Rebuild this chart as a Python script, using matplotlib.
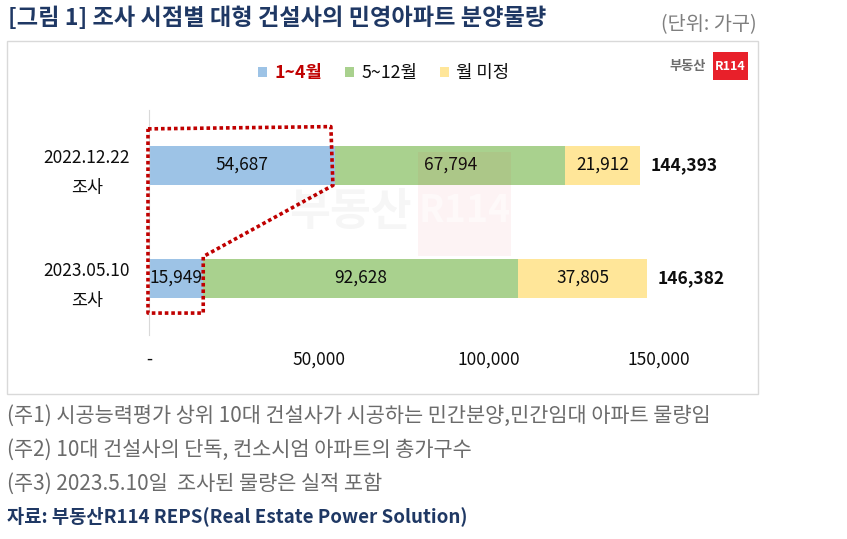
import matplotlib
matplotlib.use("Agg")
import matplotlib.pyplot as plt
from matplotlib.patches import Rectangle
from matplotlib.lines import Line2D

plt.rcParams['font.family'] = ['Noto Sans CJK KR', 'DejaVu Sans']

# ---- data ----
surveys = ['2022.12.22\n조사', '2023.05.10\n조사']
series_names = ['1~4월', '5~12월', '월 미정']
jan_apr = [54687, 15949]
may_dec = [67794, 92628]
undecided = [21912, 37805]
xticks = [0, 50000, 100000, 150000]
xtick_labels = ['-', '50,000', '100,000', '150,000']

colors = ['#9DC3E6', '#A9D18E', '#FFE699']
W, H = 847, 539
fig = plt.figure(figsize=(W / 100, H / 100), dpi=100)


def fx(x):
    return x / W


def fy(y):
    return 1 - y / H


# outer chart box
fig.patches.append(Rectangle((fx(7), fy(394)), fx(758) - fx(7), fy(41) - fy(394),
                             transform=fig.transFigure, fill=False,
                             edgecolor='#D9D9D9', linewidth=1))

ax = fig.add_axes([fx(149), fy(335), (740 - 149) / W, 225 / H])
ypos = [1, 0]
h = 0.345
left2 = [a + b for a, b in zip(jan_apr, may_dec)]
totals = [a + b + c for a, b, c in zip(jan_apr, may_dec, undecided)]

c1 = ax.barh(ypos, jan_apr, height=h, color=colors[0], label=series_names[0])
c2 = ax.barh(ypos, may_dec, left=jan_apr, height=h, color=colors[1], label=series_names[1])
c3 = ax.barh(ypos, undecided, left=left2, height=h, color=colors[2], label=series_names[2])
for c, vals in [(c1, jan_apr), (c2, may_dec), (c3, undecided)]:
    ax.bar_label(c, labels=[f'{v:,}' for v in vals], label_type='center',
                 fontsize=12.5, color='#0D0D0D')
for y, t in zip(ypos, totals):
    ax.annotate(f'{t:,}', xy=(t, y), xytext=(8, 0), textcoords='offset points',
                ha='left', va='center', fontsize=12.5, fontweight='bold', color='#0D0D0D')

ax.set_xlim(0, 173800)
ax.set_ylim(-0.504, 1.487)
ax.set_xticks(xticks)
ax.set_xticklabels(xtick_labels, fontsize=12.5, color='#0D0D0D')
ax.set_yticks(ypos)
ax.set_yticklabels(surveys, fontsize=12.5, color='#0D0D0D', multialignment='center',
                   linespacing=1.85)
ax.tick_params(axis='x', length=0, pad=11)
ax.tick_params(axis='y', length=0, pad=13.5)
for s in ['top', 'right', 'bottom']:
    ax.spines[s].set_visible(False)
ax.spines['left'].set_color('#D9D9D9')

# red dotted highlight around 1~4월 segments
poly_x = [-300, jan_apr[0] - 1200, jan_apr[0] - 600, jan_apr[1], jan_apr[1], -300, -300]
poly_y = [1.32, 1.34, 1 - 0.18, 0 + 0.19, -0.31, -0.31, 1.32]
ax.add_line(Line2D(poly_x, poly_y, color='#C00000', linewidth=2.6,
                   linestyle=(0, (1, 0.8)), dash_capstyle='butt', clip_on=False, zorder=5))

# legend
leg = fig.legend(handles=[c1, c2, c3], labels=series_names, loc='center',
                 bbox_to_anchor=(fx(384), fy(73)), ncol=3, frameon=False,
                 fontsize=12.8, handlelength=0.5, handleheight=0.5,
                 handletextpad=0.4, columnspacing=1.3)
texts = leg.get_texts()
texts[0].set_color('#C00000')
texts[0].set_fontweight('bold')
for t in texts[1:]:
    t.set_color('#0D0D0D')

# watermark
fig.patches.append(Rectangle((fx(418), fy(256)), fx(511) - fx(418), fy(152) - fy(256),
                             transform=fig.transFigure, facecolor='#E8202A', alpha=0.05,
                             edgecolor='none', zorder=10))
fig.text(fx(465), fy(210), 'R114', ha='center', va='center', fontsize=27,
         fontweight='bold', color='white', alpha=0.5, zorder=11)
fig.text(fx(350), fy(212), '부동산', ha='center', va='center', fontsize=32,
         fontweight='bold', color='#000000', alpha=0.035, zorder=11)

# logo
fig.patches.append(Rectangle((fx(713), fy(80)), fx(748) - fx(713), fy(52) - fy(80),
                             transform=fig.transFigure, facecolor='#E8202A',
                             edgecolor='none'))
fig.text(fx(730.5), fy(66), 'R114', ha='center', va='center', fontsize=9,
         fontweight='bold', color='white')
fig.text(fx(706), fy(66), '부동산', ha='right', va='center', fontsize=9.5,
         fontweight='bold', color='#6D6D6D')

# titles / notes
fig.text(fx(8), fy(18), '[그림 1] 조사 시점별 대형 건설사의 민영아파트 분양물량',
         ha='left', va='center', fontsize=16.7, fontweight='bold', color='#1F3864')
fig.text(fx(757), fy(25), '(단위: 가구)', ha='right', va='center', fontsize=14.2,
         color='#7F7F7F')
notes = ['(주1) 시공능력평가 상위 10대 건설사가 시공하는 민간분양,민간임대 아파트 물량임',
         '(주2) 10대 건설사의 단독, 컨소시엄 아파트의 총가구수',
         '(주3) 2023.5.10일  조사된 물량은 실적 포함']
for yy, n in zip([416, 450, 484], notes):
    fig.text(fx(7), fy(yy), n, ha='left', va='center', fontsize=15, color='#6B6B6B')
fig.text(fx(7), fy(516), '자료: 부동산R114 REPS(Real Estate Power Solution)',
         ha='left', va='center', fontsize=13.5, fontweight='bold', color='#1F3864')

fig.savefig('out.png', dpi=100)
